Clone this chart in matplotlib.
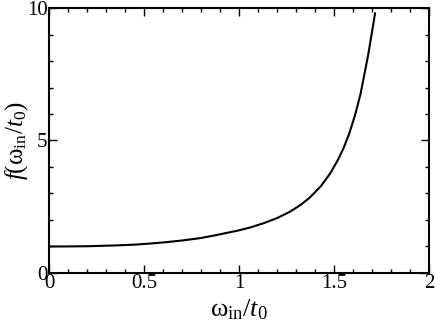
import numpy as np
import matplotlib.pyplot as plt
from matplotlib.ticker import MultipleLocator

# valores
w_in = [0.0, 0.1, 0.2, 0.35, 0.45, 0.53, 0.62, 0.71, 0.8, 0.88, 1.0, 1.06, 1.13,
        1.2, 1.27, 1.32, 1.37, 1.43, 1.48, 1.52, 1.55, 1.58, 1.61, 1.64, 1.68,
        1.70, 1.716]
f_vals = [1.0, 1.0025, 1.01, 1.04, 1.07, 1.11, 1.165, 1.235, 1.32, 1.43, 1.61, 1.72, 1.88,
          2.07, 2.32, 2.55, 2.83, 3.27, 3.76, 4.26, 4.71, 5.26, 5.94, 6.77, 8.24,
          9.1, 9.8]

plt.rcParams['font.family'] = 'Liberation Serif'
plt.rcParams['mathtext.fontset'] = 'custom'
plt.rcParams['mathtext.rm'] = 'Liberation Serif'
plt.rcParams['mathtext.it'] = 'Liberation Serif:italic'

fig = plt.figure(figsize=(4.36, 3.28), dpi=100)
ax = fig.add_axes([0.1124, 0.1677, 0.8716, 0.8079])

ax.plot(w_in, f_vals, 'k-', lw=1.5)

ax.set_xlim(0, 2)
ax.set_ylim(0, 10)
ax.xaxis.set_minor_locator(MultipleLocator(0.1))
ax.yaxis.set_minor_locator(MultipleLocator(1))
ax.set_xticks([0, 0.5, 1, 1.5, 2])
ax.set_xticklabels(['0', '0.5', '1', '1.5', '2'])
ax.set_yticks([0, 5, 10])
ax.set_yticklabels(['0', '5', '10'])
ax.tick_params(which='both', direction='in', top=True, right=True, width=1, labelsize=15, pad=1)
ax.tick_params(which='major', length=6)
ax.tick_params(which='minor', length=3)
for s in ax.spines.values():
    s.set_linewidth(1.5)

ax.set_xlabel(r'$\mathrm{ω}_{\mathrm{in}}/t_{\mathit{0}}$', fontsize=19, labelpad=3)
ax.set_ylabel(r'$f(\mathrm{ω}_{\mathrm{in}}/t_{\mathit{0}})$', fontsize=18, labelpad=-2)

fig.savefig('out.png', dpi=100)
